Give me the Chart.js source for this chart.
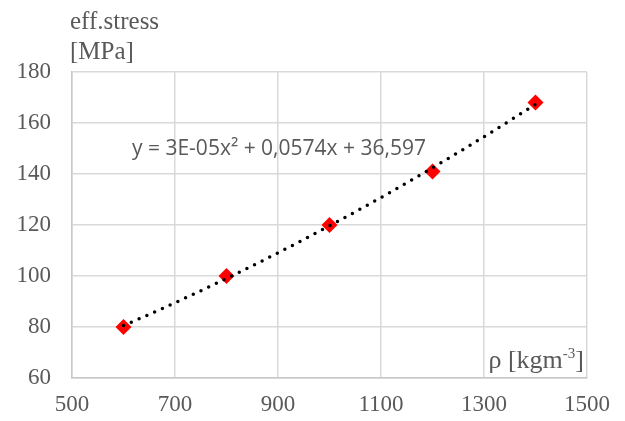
<!DOCTYPE html>
<html>
<head>
<meta charset="utf-8">
<script src="https://cdn.jsdelivr.net/npm/chart.js@4/dist/chart.umd.min.js"></script>
<style>
  html, body { margin: 0; padding: 0; background: #fff; }
  #wrap { width: 625px; height: 421px; }
</style>
</head>
<body>
<div id="wrap"><canvas id="chart"></canvas></div>
<script>
// Effective stress vs. density, with a 2nd order polynomial trendline.
const densities = [600, 800, 1000, 1200, 1400];
const stresses = [80, 100, 120, 141, 168];
const xTicks = [500, 700, 900, 1100, 1300, 1500];
const yTitleLines = ['eff.stress', '[MPa]'];
const xTitle = 'ρ [kgm';
const xTitleSup = '-3';
const equation = 'y = 3E-05x² + 0,0574x + 36,597';

// least squares quadratic fit through the measured points
function fitQuadratic(xs, ys) {
    let s = [0, 0, 0, 0, 0], t = [0, 0, 0];
    xs.forEach((x, i) => {
        for (let k = 0; k < 5; k++) s[k] += Math.pow(x, k);
        for (let k = 0; k < 3; k++) t[k] += Math.pow(x, k) * ys[i];
    });
    const m = [[s[0], s[1], s[2], t[0]], [s[1], s[2], s[3], t[1]], [s[2], s[3], s[4], t[2]]];
    for (let i = 0; i < 3; i++) {
        for (let j = i + 1; j < 3; j++) {
            const f = m[j][i] / m[i][i];
            for (let k = i; k < 4; k++) m[j][k] -= f * m[i][k];
        }
    }
    const c = [0, 0, 0];
    for (let i = 2; i >= 0; i--) {
        let v = m[i][3];
        for (let k = i + 1; k < 3; k++) v -= m[i][k] * c[k];
        c[i] = v / m[i][i];
    }
    return (x) => c[0] + c[1] * x + c[2] * x * x;
}

const trend = fitQuadratic(densities, stresses);
const trendPoints = [];
for (let x = densities[0]; x <= densities[densities.length - 1]; x += 20) {
    trendPoints.push({ x: x, y: trend(x) });
}

const labelColor = '#595959';
const serif = '"Liberation Serif", "Times New Roman", serif';

const annotations = {
    id: 'annotations',
    afterDraw(chart) {
        const ctx = chart.ctx;
        const area = chart.chartArea;
        ctx.save();
        ctx.fillStyle = labelColor;
        ctx.textBaseline = 'alphabetic';

        // y axis title above the plot
        ctx.font = '25px ' + serif;
        ctx.textAlign = 'left';
        ctx.fillText(yTitleLines[0], area.left - 2, 29);
        ctx.fillText(yTitleLines[1], area.left - 2, 59);

        // x axis title inside the plot, bottom right
        const mainFont = '26px ' + serif;
        const supFont = '15px ' + serif;
        ctx.font = supFont;
        const supW = ctx.measureText(xTitleSup).width;
        ctx.font = mainFont;
        const closeW = ctx.measureText(']').width;
        const mainW = ctx.measureText(xTitle).width;
        const right = area.right - 3;
        const base = area.bottom - 10;
        ctx.fillText(xTitle, right - closeW - supW - mainW, base);
        ctx.fillText(']', right - closeW, base);
        ctx.font = supFont;
        ctx.fillText(xTitleSup, right - closeW - supW, base - 10);

        // trendline equation
        ctx.font = '21px "Open Sans", "Liberation Sans", sans-serif';
        ctx.fillText(equation, 132, 155);
        ctx.restore();
    }
};

new Chart(document.getElementById('chart'), {
    type: 'scatter',
    data: {
        datasets: [
            {
                label: 'stress',
                data: densities.map((x, i) => ({ x: x, y: stresses[i] })),
                pointStyle: 'rectRot',
                pointRadius: 8,
                backgroundColor: '#ff0000',
                borderWidth: 0,
                order: 1
            },
            {
                label: 'trend',
                data: trendPoints,
                showLine: true,
                pointRadius: 0,
                borderColor: '#000',
                borderWidth: 3.5,
                borderDash: [0, 8.5],
                borderCapStyle: 'round',
                order: 0
            }
        ]
    },
    options: {
        responsive: true,
        maintainAspectRatio: false,
        animation: false,
        layout: { padding: { top: 72, right: 38, left: 0, bottom: 0 } },
        plugins: { legend: { display: false }, tooltip: { enabled: false } },
        scales: {
            x: {
                type: 'linear',
                min: 500,
                max: 1500,
                afterBuildTicks: (scale) => { scale.ticks = xTicks.map(v => ({ value: v })); },
                afterFit: (scale) => { scale.height = 43; },
                grid: { color: '#d9d9d9', lineWidth: 1.5, drawTicks: false },
                border: { color: '#c8c8c8', width: 1.5 },
                ticks: {
                    color: labelColor,
                    padding: 13,
                    callback: (v) => String(v),
                    font: { family: serif, size: 23 }
                }
            },
            y: {
                min: 60,
                max: 180,
                ticks: {
                    stepSize: 20,
                    color: labelColor,
                    padding: 21,
                    font: { family: serif, size: 23 }
                },
                afterFit: (scale) => { scale.width = 72; },
                grid: { color: '#d9d9d9', lineWidth: 1.5, drawTicks: false },
                border: { color: '#c8c8c8', width: 1.5 }
            }
        }
    },
    plugins: [annotations]
});
</script>
</body>
</html>
